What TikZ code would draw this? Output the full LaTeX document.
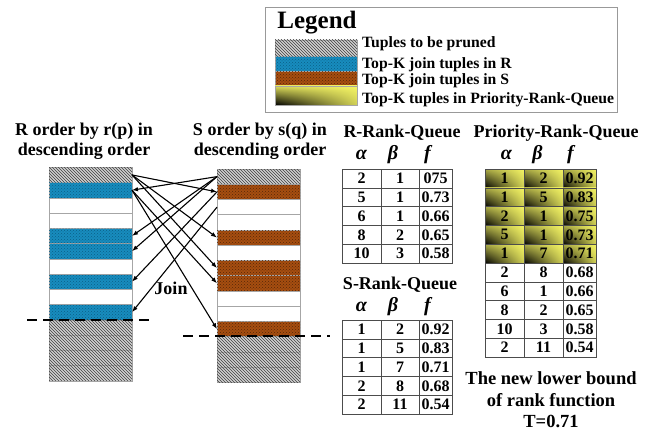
\documentclass[tikz,border=0pt]{standalone}
\usepackage{fontspec}
\setmainfont{Liberation Serif}
\usetikzlibrary{arrows.meta,positioning,patterns,shadings}

\definecolor{rblue}{RGB}{24,140,190}
\definecolor{rbluedot}{RGB}{10,96,134}
\definecolor{sbrown}{RGB}{166,78,16}
\definecolor{sbrowndot}{RGB}{86,38,8}
\definecolor{prgray}{RGB}{208,208,208}
\definecolor{pryellow}{RGB}{244,244,100}

\newcommand{\setfs}[2]{\fontsize{#1}{#2}\selectfont\bfseries}

\tikzset{
  tuple/.style={draw=gray!70,line width=0.6pt,minimum width=83pt,minimum height=15.25pt,inner sep=0pt,outer sep=0pt},
  pruned/.style={tuple,fill=prgray,postaction={pattern=north west lines,pattern color=gray!50!black}},
  rjoin/.style={tuple,fill=rblue,postaction={pattern=crosshatch dots,pattern color=rbluedot}},
  sjoin/.style={tuple,fill=sbrown,postaction={pattern=crosshatch dots,pattern color=sbrowndot}},
  blank/.style={tuple,fill=white},
  cell/.style={draw=gray!60!black,line width=0.6pt,minimum height=18.8pt,inner sep=0pt,outer sep=0pt,font=\setfs{16}{18}},
  prq/.style={cell,shade,lower left=black,upper left=pryellow!70!black,lower right=pryellow!85!black,upper right=pryellow},
  greek/.style={font=\setfs{20}{22}\itshape,anchor=base,inner sep=0pt},
  heading/.style={font=\setfs{18}{19.5},align=center,inner sep=0pt},
  legtext/.style={font=\setfs{15.7}{17},anchor=west,inner sep=0pt},
  joinarrow/.style={-{Latex[length=6pt,width=4.5pt]},line width=1.1pt},
  cutline/.style={line width=1.3pt,dash pattern=on 10pt off 6pt},
}

\begin{document}
\begin{tikzpicture}[x=1pt,y=-1pt]
  \useasboundingbox (0,0) rectangle (653,433);

  % legend
  \node[draw=gray!80,line width=0.8pt,minimum width=352pt,minimum height=105pt,inner sep=0pt] (legendbox) at (441,59.5) {};
  \node[font=\setfs{25}{27},inner sep=0pt] (legendtitle) at (317,23) {Legend};
  \node[pruned,minimum width=82pt,minimum height=16pt] (lg1) at (316,48) {};
  \node[rjoin,minimum width=82pt,minimum height=15pt] (lg2) at (316,63.5) {};
  \node[sjoin,minimum width=82pt,minimum height=15pt] (lg3) at (316,78.5) {};
  \node[draw=gray!70,line width=0.6pt,minimum width=82pt,minimum height=19pt,inner sep=0pt,shade,
        lower left=black,upper left=pryellow!90!black,lower right=pryellow!85!black,upper right=pryellow] (lg4) at (316,95.5) {};
  \node[legtext] (lgt1) at (362,44) {Tuples to be pruned};
  \node[legtext] (lgt2) at (362,65) {Top-K join tuples in R};
  \node[legtext] (lgt3) at (362,80.5) {Top-K join tuples in S};
  \node[legtext] (lgt4) at (362,100) {Top-K tuples in Priority-Rank-Queue};

  % the two sorted relations
  \node[heading] (rtitle) at (84,141) {R order by r(p) in\\descending order};
  \node[heading] (stitle) at (260,141) {S order by s(q) in\\descending order};
  \foreach \k [count=\i] in {pruned,rjoin,blank,blank,rjoin,rjoin,blank,rjoin,blank,rjoin,pruned,pruned,pruned,pruned}
    \node[\k] (r\i) at (90.5,{167.3+15.25*(\i-0.5)}) {};
  \foreach \k [count=\i] in {pruned,sjoin,blank,blank,sjoin,blank,sjoin,sjoin,blank,blank,sjoin,pruned,pruned,pruned}
    \node[\k] (s\i) at (258.5,{169+15.25*(\i-0.5)}) {};

  \foreach \u/\v in {r1/s2,r1/s5,r1/s7,r2/s8,r2/s11}
    \draw[joinarrow] (\u.east) -- (\v.west);
  \foreach \u/\v in {s1/r2,s1/r5,s1/r6,s2/r8,s3/r10}
    \draw[joinarrow] (\u.west) -- (\v.east);
  \node[font=\setfs{18}{20}] (join) at (171,288) {Join};

  \coordinate (rcutl) at (27,320);
  \coordinate (rcutr) at (155,320);
  \coordinate (scutl) at (183,336);
  \coordinate (scutr) at (330,336);
  \draw[cutline] (rcutl) -- (rcutr);
  \draw[cutline] (scutl) -- (scutr);

  % R-Rank-Queue
  \node[heading] (rqtitle) at (402,133) {R-Rank-Queue};
  \foreach \va/\vb/\vf [count=\i] in {2/1/075,5/1/0.73,6/1/0.66,8/2/0.65,10/3/0.58}{
    \node[cell,minimum width=39pt] (ra\i) at (361.5,{169+18.8*(\i-0.5)}) {\va};
    \node[cell,minimum width=38pt] (rb\i) at (400,{169+18.8*(\i-0.5)}) {\vb};
    \node[cell,minimum width=33pt] (rf\i) at (435.5,{169+18.8*(\i-0.5)}) {\vf};
  }
  \node[greek] (rqalpha) at ([yshift=10pt]ra1.north) {α};
  \node[greek] (rqbeta) at ([xshift=-7pt,yshift=10pt]rb1.north) {β};
  \node[greek] (rqf) at ([xshift=-8pt,yshift=10pt]rf1.north) {f};

  % S-Rank-Queue
  \node[heading] (sqtitle) at (400,285) {S-Rank-Queue};
  \foreach \va/\vb/\vf [count=\i] in {1/2/0.92,1/5/0.83,1/7/0.71,2/8/0.68,2/11/0.54}{
    \node[cell,minimum width=39pt] (sa\i) at (361.5,{320+18.8*(\i-0.5)}) {\va};
    \node[cell,minimum width=38pt] (sb\i) at (400,{320+18.8*(\i-0.5)}) {\vb};
    \node[cell,minimum width=33pt] (sf\i) at (435.5,{320+18.8*(\i-0.5)}) {\vf};
  }
  \node[greek] (sqalpha) at ([yshift=9pt]sa1.north) {α};
  \node[greek] (sqbeta) at ([xshift=-7pt,yshift=9pt]sb1.north) {β};
  \node[greek] (sqf) at ([xshift=-8pt,yshift=9pt]sf1.north) {f};

  % Priority-Rank-Queue
  \node[heading] (pqtitle) at (556,133) {Priority-Rank-Queue};
  \foreach \va/\vb/\vf [count=\i] in {1/2/0.92,1/5/0.83,2/1/0.75,5/1/0.73,1/7/0.71}{
    \node[prq,minimum width=39pt] (pa\i) at (504.5,{169+18.8*(\i-0.5)}) {\va};
    \node[prq,minimum width=39pt] (pb\i) at (543.5,{169+18.8*(\i-0.5)}) {\vb};
    \node[prq,minimum width=33pt] (pf\i) at (579.5,{169+18.8*(\i-0.5)}) {\vf};
  }
  \foreach \va/\vb/\vf [count=\j from 6] in {2/8/0.68,6/1/0.66,8/2/0.65,10/3/0.58,2/11/0.54}{
    \node[cell,minimum width=39pt] (pa\j) at (504.5,{169+18.8*(\j-0.5)}) {\va};
    \node[cell,minimum width=39pt] (pb\j) at (543.5,{169+18.8*(\j-0.5)}) {\vb};
    \node[cell,minimum width=33pt] (pf\j) at (579.5,{169+18.8*(\j-0.5)}) {\vf};
  }
  \node[greek] (pqalpha) at ([xshift=2pt,yshift=10pt]pa1.north) {α};
  \node[greek] (pqbeta) at ([xshift=-6pt,yshift=10pt]pb1.north) {β};
  \node[greek] (pqf) at ([xshift=-9pt,yshift=10pt]pf1.north) {f};

  \node[heading,font=\setfs{18.5}{21.5}] (bound) at (551,400) {The new lower bound\\of rank function\\T=0.71};
\end{tikzpicture}
\end{document}
